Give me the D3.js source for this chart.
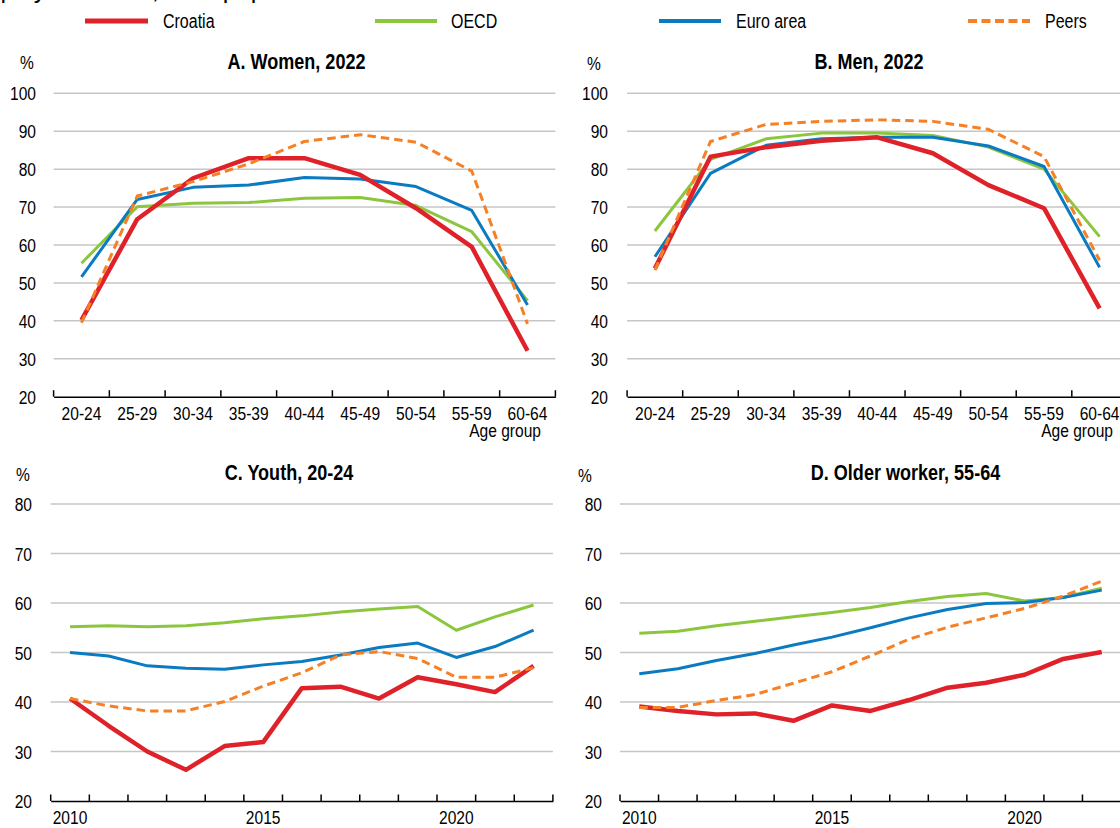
<!DOCTYPE html>
<html>
<head>
<meta charset="utf-8">
<script src="https://cdn.jsdelivr.net/npm/d3@7"></script>
<style>
  html, body { margin: 0; padding: 0; background: #fff; }
  svg { display: block; }
  text { font-family: "Liberation Sans", Arial, sans-serif; fill: #000; }
</style>
</head>
<body>
<svg id="chart" width="1120" height="828"></svg>
<script>
// ---------- DATA ----------
const seriesNames = ["Croatia", "OECD", "Euro area", "Peers"];
const ageGroups = ["20-24", "25-29", "30-34", "35-39", "40-44", "45-49", "50-54", "55-59", "60-64"];
const years = [2010, 2011, 2012, 2013, 2014, 2015, 2016, 2017, 2018, 2019, 2020, 2021, 2022];
const yearTickLabels = [2010, 2015, 2020];
const ageYTicks = [20, 30, 40, 50, 60, 70, 80, 90, 100];
const trendYTicks = [20, 30, 40, 50, 60, 70, 80];

// A. Women, 2022
const womenCroatia = [40.2, 66.8, 77.6, 82.9, 82.9, 78.5, 69.7, 59.5, 32.1];
const womenOECD    = [55.2, 70.1, 71.0, 71.2, 72.3, 72.5, 70.4, 63.5, 45.3];
const womenEuro    = [51.6, 72.0, 75.2, 75.8, 77.8, 77.4, 75.4, 69.1, 44.2];
const womenPeers   = [39.5, 72.9, 76.7, 81.4, 87.3, 89.1, 87.1, 79.5, 39.2];

// B. Men, 2022
const menCroatia = [53.8, 83.3, 85.8, 87.5, 88.4, 84.2, 75.8, 69.7, 43.3];
const menOECD    = [63.7, 82.6, 88.0, 89.5, 89.5, 88.9, 85.8, 80.0, 62.2];
const menEuro    = [56.9, 78.9, 86.3, 88.0, 88.4, 88.4, 86.1, 80.7, 54.1];
const menPeers   = [53.4, 87.3, 91.8, 92.6, 93.0, 92.6, 90.5, 83.3, 56.0];

// C. Youth, 20-24
const youthCroatia = [40.7, 35.2, 30.0, 26.3, 31.1, 31.9, 42.8, 43.1, 40.7, 45.0, 43.6, 42.0, 47.3];
const youthOECD    = [55.2, 55.4, 55.2, 55.4, 56.0, 56.8, 57.4, 58.2, 58.8, 59.3, 54.5, 57.2, 59.6];
const youthEuro    = [50.0, 49.3, 47.3, 46.8, 46.6, 47.5, 48.2, 49.5, 51.0, 51.9, 49.0, 51.2, 54.5];
const youthPeers   = [40.7, 39.2, 38.2, 38.2, 40.1, 43.2, 45.9, 49.5, 50.2, 48.8, 45.0, 45.0, 46.9];

// D. Older worker, 55-64
const olderCroatia = [39.1, 38.2, 37.5, 37.7, 36.2, 39.3, 38.2, 40.4, 42.9, 43.9, 45.5, 48.7, 50.1];
const olderOECD    = [53.9, 54.3, 55.4, 56.3, 57.2, 58.1, 59.1, 60.3, 61.3, 61.9, 60.4, 61.1, 63.0];
const olderEuro    = [45.7, 46.7, 48.4, 49.8, 51.5, 53.1, 55.0, 57.0, 58.7, 59.9, 60.1, 61.1, 62.6];
const olderPeers   = [38.9, 38.9, 40.3, 41.5, 43.8, 46.1, 49.3, 52.7, 55.1, 57.0, 58.9, 61.4, 64.4];

// ---------- STYLE ----------
const styles = {
  "Croatia":   { color: "#DF2129", width: 4.5, dash: null },
  "OECD":      { color: "#8CC63F", width: 3,   dash: null },
  "Euro area": { color: "#0A7BC1", width: 3,   dash: null },
  "Peers":     { color: "#F58025", width: 3,   dash: "8.5,5" }
};
const drawOrder = ["OECD", "Euro area", "Croatia", "Peers"];
const NARROW = 0.82;   // horizontal condensing to mimic Arial Narrow

const svg = d3.select("#chart");

// condensed text helper
function ntext(parent, x, y, str, size, anchor, weight, sx) {
  return parent.append("text")
    .attr("transform", `translate(${x},${y}) scale(${sx || NARROW},1)`)
    .attr("text-anchor", anchor || "start")
    .style("font-size", size + "px")
    .style("font-weight", weight || "normal")
    .text(str);
}

// top cut-off subtitle (only descenders visible in the reference)
ntext(svg, -37, -2.2, "Employment rate, % of population", 25, "start", "normal", 1);

// ---------- LEGEND ----------
const legendItems = [
  { name: "Croatia", x1: 85, x2: 148, tx: 163 },
  { name: "OECD", x1: 375, x2: 437, tx: 451 },
  { name: "Euro area", x1: 659, x2: 721, tx: 736 },
  { name: "Peers", x1: 968, x2: 1030, tx: 1045 }
];
legendItems.forEach(li => {
  const st = styles[li.name];
  svg.append("line").attr("x1", li.x1).attr("x2", li.x2).attr("y1", 21).attr("y2", 21)
    .attr("stroke", st.color).attr("stroke-width", li.name === "Croatia" ? 5 : 4)
    .attr("stroke-dasharray", st.dash ? "9,4.5" : null);
  ntext(svg, li.tx, 28, li.name, 19.5);
});

// ---------- PANELS ----------
function panel(cfg) {
  const g = svg.append("g");
  const x = d3.scaleBand().domain(cfg.cats).range([cfg.x0, cfg.x1]).padding(0);
  const y = d3.scaleLinear().domain([cfg.ticks[0], cfg.ticks[cfg.ticks.length - 1]]).range([cfg.yBottom, cfg.yTop]);

  // gridlines
  g.append("g").selectAll("line").data(cfg.ticks.slice(1)).join("line")
    .attr("x1", cfg.x0).attr("x2", cfg.x1)
    .attr("y1", d => y(d)).attr("y2", d => y(d))
    .attr("stroke", "#C6C6C6").attr("stroke-width", 1.5);

  // y labels
  cfg.ticks.forEach(t => ntext(g, cfg.yLabelX, y(t) + 7, t, 19, "end"));

  // % unit
  ntext(g, cfg.pctX, cfg.pctY, "%", 19);

  // title
  ntext(g, cfg.titleX, cfg.titleY, cfg.title, 22, "middle", "bold");

  // x axis
  const axis = d3.axisBottom(x).tickSize(0).tickFormat(d => cfg.labelFn(d));
  const ag = g.append("g").attr("transform", `translate(0,${cfg.yBottom})`).call(axis);
  ag.select(".domain").attr("stroke", "#000").attr("stroke-width", 1.5);
  ag.selectAll(".tick text")
    .attr("y", 0).attr("dy", 0)
    .attr("transform", `translate(0,${cfg.labelDy}) scale(${NARROW},1)`)
    .attr("fill", "#000")
    .style("font-size", "19px")
    .style("font-family", "'Liberation Sans', Arial, sans-serif");
  // tick marks at band boundaries, pointing up
  const bounds = cfg.cats.map(c => x(c)).concat([x.range()[1]]);
  g.append("g").selectAll("line").data(bounds).join("line")
    .attr("x1", d => d).attr("x2", d => d)
    .attr("y1", cfg.yBottom).attr("y2", cfg.yBottom - 6.5)
    .attr("stroke", "#000").attr("stroke-width", 1.5);

  if (cfg.xTitle) ntext(g, cfg.xTitleX, cfg.yBottom + 40, cfg.xTitle, 19, "end");

  // lines
  const line = d3.line().x((d, i) => x(cfg.cats[i]) + x.bandwidth() / 2).y(d => y(d));
  drawOrder.forEach(name => {
    const st = styles[name];
    g.append("path").datum(cfg.series[name])
      .attr("d", line).attr("fill", "none")
      .attr("stroke", st.color).attr("stroke-width", st.width)
      .attr("stroke-linejoin", "round")
      .attr("stroke-dasharray", st.dash);
  });
}

panel({
  cats: ageGroups, ticks: ageYTicks, x0: 53.6, x1: 555.4, yTop: 93.3, yBottom: 396.7,
  yLabelX: 36, pctX: 20, pctY: 69, title: "A. Women, 2022", titleX: 296.5, titleY: 69,
  labelFn: d => d, labelDy: 23, xTitle: "Age group", xTitleX: 541,
  series: { "Croatia": womenCroatia, "OECD": womenOECD, "Euro area": womenEuro, "Peers": womenPeers }
});
panel({
  cats: ageGroups, ticks: ageYTicks, x0: 627.1, x1: 1127.4, yTop: 93.3, yBottom: 396.7,
  yLabelX: 608, pctX: 587, pctY: 70, title: "B. Men, 2022", titleX: 869, titleY: 69,
  labelFn: d => d, labelDy: 23, xTitle: "Age group", xTitleX: 1113,
  series: { "Croatia": menCroatia, "OECD": menOECD, "Euro area": menEuro, "Peers": menPeers }
});
panel({
  cats: years, ticks: trendYTicks, x0: 50.7, x1: 552.9, yTop: 504, yBottom: 801,
  yLabelX: 32, pctX: 16, pctY: 481, title: "C. Youth, 20-24", titleX: 289, titleY: 480,
  labelFn: d => yearTickLabels.includes(d) ? d : "", labelDy: 23, xTitle: null,
  series: { "Croatia": youthCroatia, "OECD": youthOECD, "Euro area": youthEuro, "Peers": youthPeers }
});
panel({
  cats: years, ticks: trendYTicks, x0: 620, x1: 1121, yTop: 504, yBottom: 801,
  yLabelX: 602, pctX: 578, pctY: 482, title: "D. Older worker, 55-64", titleX: 905.5, titleY: 480,
  labelFn: d => yearTickLabels.includes(d) ? d : "", labelDy: 23, xTitle: null,
  series: { "Croatia": olderCroatia, "OECD": olderOECD, "Euro area": olderEuro, "Peers": olderPeers }
});
</script>
</body>
</html>
